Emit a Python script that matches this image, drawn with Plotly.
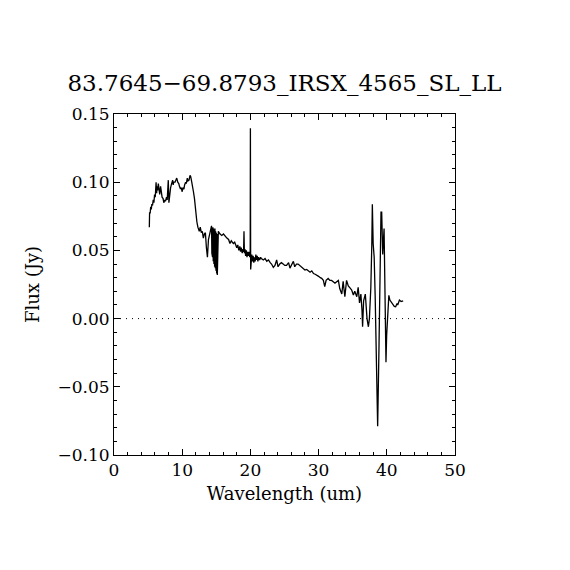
import plotly.graph_objects as go

# IRS spectrum
wavelength = [
    5.18, 5.22, 5.30, 5.38, 5.47, 5.55, 5.65, 5.75, 5.85, 5.95, 6.05, 6.17, 6.25, 6.32, 6.40,
    6.50, 6.58, 6.70, 6.83, 6.92, 7.05, 7.20, 7.30, 7.45, 7.55, 7.70, 7.80, 7.90, 7.96, 8.05,
    8.15, 8.30, 8.45, 8.60, 8.68, 8.75, 8.95, 9.10, 9.20, 9.35, 9.50, 9.60, 9.75, 9.85, 10.0,
    10.1, 10.25, 10.35, 10.5, 10.6, 10.75, 10.85, 11.0, 11.15, 11.25, 11.4, 11.55, 11.65, 11.8,
    11.9, 12.05, 12.15, 12.3, 12.4, 12.5, 12.65, 12.8, 12.95, 13.1, 13.25, 13.4, 13.55, 13.7,
    13.85, 14.0, 14.15, 14.3,
    14.35, 14.4, 14.45, 14.5, 14.55, 14.6, 14.65, 14.7, 14.75, 14.8, 14.85, 14.9, 14.95, 15.0,
    15.05, 15.1, 15.15, 15.2, 15.25, 15.3,
    15.55, 15.8, 16.05, 16.3, 16.55, 16.8, 17.0, 17.2, 17.5, 17.7, 17.85, 18.0, 18.15, 18.3,
    18.45, 18.55, 18.65, 18.8, 18.9, 19.0, 19.06, 19.12, 19.2, 19.3, 19.4, 19.5, 19.6, 19.7,
    19.8, 19.9, 19.97, 20.0, 20.04, 20.1, 20.2, 20.3, 20.4, 20.5, 20.6, 20.7, 20.8, 20.9,
    21.0, 21.1, 21.2, 21.35, 21.5, 21.6, 21.9, 22.15, 22.4, 22.65, 22.9, 23.1, 23.36,
    23.6, 23.85, 24.05, 24.3, 24.55, 24.8, 25.05, 25.3, 25.6, 25.8, 26.05, 26.3, 26.5, 26.75,
    27.0, 27.25, 27.5, 27.75, 28.0, 28.25, 28.5, 28.75, 29.0, 29.25, 29.5, 29.75, 30.0, 30.25,
    30.45, 30.7, 30.9, 31.1, 31.4, 31.65, 31.9, 32.15, 32.4, 32.65, 32.9, 33.1, 33.25, 33.4,
    33.6, 33.85, 34.1, 34.35, 34.6, 34.85, 35.1, 35.3, 35.6, 35.8, 36.0, 36.2, 36.36, 36.45,
    36.6, 36.85, 37.1, 37.3, 37.45, 37.66, 37.8, 37.88, 38.0, 38.15, 38.3, 38.5, 38.66, 38.86,
    39.0, 39.15, 39.25, 39.4, 39.6, 39.74, 39.88, 39.98, 40.1, 40.3, 40.45, 40.7, 40.9, 41.1,
    41.3, 41.5, 41.6, 41.85, 42.1, 42.4,
]
flux = [
    0.067, 0.078, 0.077, 0.082, 0.080, 0.084, 0.083, 0.087, 0.085, 0.091, 0.089, 0.100, 0.092, 0.097, 0.094,
    0.099, 0.093, 0.091, 0.097, 0.092, 0.089, 0.088, 0.085, 0.087, 0.086, 0.089, 0.087, 0.096, 0.1015, 0.085,
    0.092, 0.096, 0.099, 0.1015, 0.098, 0.100, 0.100, 0.102, 0.103, 0.100, 0.099, 0.097, 0.095, 0.096, 0.093,
    0.096, 0.095, 0.098, 0.100, 0.099, 0.103, 0.101, 0.1015, 0.105, 0.104, 0.100, 0.097, 0.093, 0.088,
    0.081, 0.076, 0.071, 0.067, 0.066, 0.064, 0.067, 0.063, 0.064, 0.059, 0.062, 0.063, 0.052, 0.045,
    0.058, 0.061, 0.064, 0.068,
    0.048, 0.066, 0.045, 0.067, 0.042, 0.066, 0.040, 0.065, 0.038, 0.066, 0.037, 0.064, 0.035, 0.063,
    0.033, 0.062, 0.032, 0.061, 0.034, 0.064,
    0.062, 0.061, 0.062, 0.060, 0.059, 0.058, 0.055, 0.057, 0.055, 0.056, 0.053, 0.052, 0.054, 0.050,
    0.053, 0.049, 0.052, 0.048, 0.051, 0.049, 0.064, 0.048, 0.051, 0.046, 0.050, 0.045, 0.049, 0.046,
    0.049, 0.045, 0.048, 0.1395, 0.036, 0.040, 0.047, 0.042, 0.046, 0.041, 0.045, 0.042, 0.047, 0.043,
    0.046, 0.042, 0.045, 0.043, 0.045, 0.044, 0.043, 0.044, 0.042, 0.043, 0.041, 0.040, 0.0376,
    0.039, 0.043, 0.038, 0.040, 0.041, 0.040, 0.039, 0.039, 0.041, 0.037, 0.040, 0.042, 0.038, 0.040,
    0.040, 0.039, 0.038, 0.037, 0.0356, 0.036, 0.035, 0.034, 0.035, 0.033, 0.0325, 0.032, 0.031, 0.030,
    0.0295, 0.028, 0.0235, 0.028, 0.0295, 0.028, 0.028, 0.027, 0.026, 0.027, 0.028, 0.022, 0.020, 0.018,
    0.0273, 0.016, 0.028, 0.024, 0.0225, 0.021, 0.0173, 0.020, 0.016, 0.023, 0.0115, 0.018, 0.0063, -0.006,
    0.013, 0.018, 0.000, -0.006, 0.000, 0.023, 0.054, 0.0838, 0.055, 0.045, 0.015, -0.040, -0.079, -0.019,
    0.042, 0.078, 0.078, 0.047, 0.066, 0.020, -0.032, -0.012, 0.000, 0.017, 0.0136, 0.012, 0.011, 0.009,
    0.0087, 0.011, 0.010, 0.0136, 0.0125, 0.013,
]

fig = go.Figure()
fig.add_trace(go.Scatter(x=wavelength, y=flux, mode="lines",
                         line=dict(color="black", width=1.3), showlegend=False))

# dotted zero line
fig.add_trace(go.Scatter(x=[0, 50], y=[0, 0], mode="lines",
                         line=dict(color="black", width=1, dash="1px,5px"), showlegend=False))

axis_font = dict(family="DejaVu Serif", size=17, color="black")

# page body adds 8px, so margins are shifted to land the frame at 114..455
fig.update_layout(
    width=570, height=570,
    margin=dict(l=106, r=123, t=106, b=123),
    paper_bgcolor="white", plot_bgcolor="white",
    font=axis_font,
    title=dict(text="83.7645\u221269.8793_IRSX_4565_SL_LL",
               font=dict(family="DejaVu Serif", size=23, color="black"),
               x=0.5, xanchor="center", xref="paper",
               y=(570 - 75) / 570, yanchor="middle", yref="container"),
)
fig.update_xaxes(
    range=[0, 50], dtick=10, tickformat="d",
    showgrid=False, zeroline=False,
    showline=True, linecolor="black", linewidth=1, mirror="ticks",
    ticks="inside", ticklen=6, tickcolor="black",
    minor=dict(dtick=2, ticks="inside", ticklen=3, tickcolor="black", showgrid=False),
    title=dict(text="Wavelength (um)", standoff=7, font=dict(family="DejaVu Serif", size=18, color="black")),
)
fig.update_yaxes(
    range=[-0.10, 0.15], dtick=0.05, tickformat=".2f",
    showgrid=False, zeroline=False,
    showline=True, linecolor="black", linewidth=1, mirror="ticks",
    ticks="inside", ticklen=6, tickcolor="black",
    minor=dict(dtick=0.01, ticks="inside", ticklen=3, tickcolor="black", showgrid=False),
    title=dict(text="Flux (Jy)", standoff=13, font=dict(family="DejaVu Serif", size=18, color="black")),
)

fig.write_html("out.html")
